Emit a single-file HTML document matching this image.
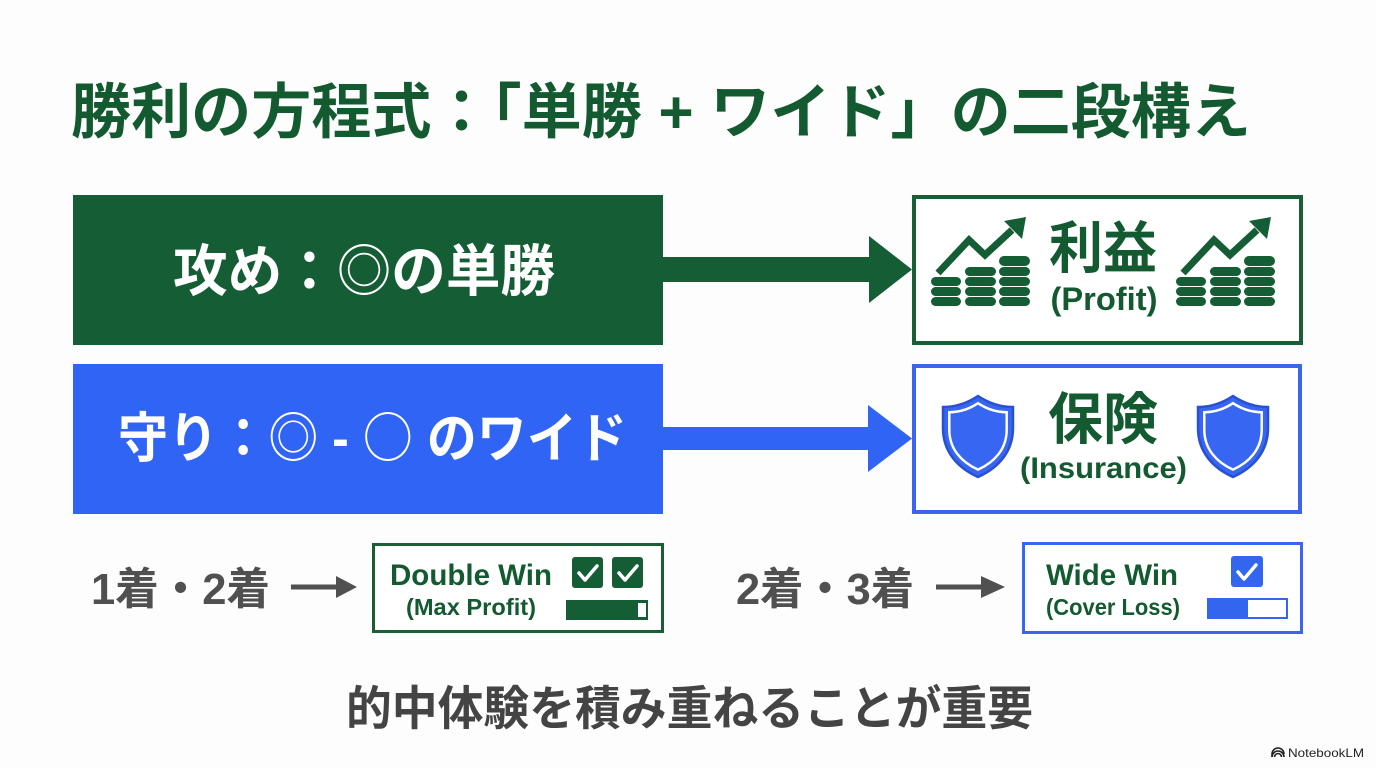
<!DOCTYPE html>
<html lang="ja">
<head>
<meta charset="utf-8">
<style>
  html, body { margin:0; padding:0; background:#fdfdfd; }
  body { width:1376px; height:768px; overflow:hidden; }
  svg { display:block; }
  text { font-family: "Liberation Sans", "Noto Sans CJK JP", sans-serif; font-weight:700; }
  .thin { font-family: "Noto Sans CJK JP", sans-serif; font-weight:400; }
  .logo { font-family: "Liberation Sans", sans-serif; font-weight:400; }
</style>
</head>
<body>
<svg width="1376" height="768" viewBox="0 0 1376 768" xmlns="http://www.w3.org/2000/svg">
  <rect width="1376" height="768" fill="#fdfdfd"/>

  <!-- Title -->
  <text x="71" y="133" font-size="60" fill="#135a30" textLength="1180" lengthAdjust="spacingAndGlyphs">勝利の方程式：「単勝 + ワイド」の二段構え</text>

  <!-- Green attack box -->
  <rect x="73" y="195" width="590" height="150" fill="#155d34"/>
  <text x="173" y="291" font-size="56" fill="#ffffff" textLength="382" lengthAdjust="spacingAndGlyphs">攻め：<tspan class="thin">◎</tspan>の単勝</text>

  <!-- Green arrow -->
  <polygon points="663,257 869,257 869,236 912,269.5 869,303 869,282 663,282" fill="#155d34"/>

  <!-- Green outline box -->
  <rect x="914" y="197" width="387" height="146" fill="#ffffff" stroke="#1a5e36" stroke-width="4"/>
  <text x="1103" y="268" font-size="56" fill="#135a30" text-anchor="middle" textLength="108" lengthAdjust="spacingAndGlyphs">利益</text>
  <text x="1104" y="310" font-size="32" fill="#135a30" text-anchor="middle" textLength="107" lengthAdjust="spacingAndGlyphs">(Profit)</text>

  <!-- Coin icon -->
  <g id="coins" fill="#155d34">
    <polyline points="938,273 969,240 985,255 1012,230" fill="none" stroke="#155d34" stroke-width="7" stroke-linejoin="miter"/>
    <polygon points="1026,217 1022,239 1004,221"/>
    <!-- stack 1 -->
    <rect x="931" y="297" width="30" height="9" rx="4.5"/>
    <rect x="931" y="287" width="30" height="9" rx="4.5"/>
    <rect x="931" y="277" width="30" height="9" rx="4.5"/>
    <!-- stack 2 -->
    <rect x="965" y="297" width="31" height="9" rx="4.5"/>
    <rect x="965" y="287" width="31" height="9" rx="4.5"/>
    <rect x="965" y="277" width="31" height="9" rx="4.5"/>
    <rect x="965" y="267" width="31" height="9" rx="4.5"/>
    <!-- stack 3 -->
    <rect x="999" y="297" width="31" height="9" rx="4.5"/>
    <rect x="999" y="287" width="31" height="9" rx="4.5"/>
    <rect x="999" y="277" width="31" height="9" rx="4.5"/>
    <rect x="999" y="267" width="31" height="9" rx="4.5"/>
    <rect x="999" y="256" width="31" height="10" rx="5"/>
  </g>
  <use href="#coins" transform="translate(245,0)"/>

  <!-- Blue defense box -->
  <rect x="73" y="364" width="590" height="150" fill="#3064f5"/>
  <text x="118" y="457" font-size="54" fill="#ffffff" textLength="509" lengthAdjust="spacingAndGlyphs">守り：<tspan class="thin">◎</tspan> - <tspan class="thin">○</tspan> のワイド</text>

  <!-- Blue arrow -->
  <polygon points="663,427 868,427 868,405 912,438.5 868,472 868,450 663,450" fill="#3064f5"/>

  <!-- Blue outline box -->
  <rect x="914" y="366" width="386" height="146" fill="#ffffff" stroke="#3a66ee" stroke-width="4"/>
  <text x="1103" y="439" font-size="56" fill="#135a30" text-anchor="middle" textLength="110" lengthAdjust="spacingAndGlyphs">保険</text>
  <text x="1103.5" y="478" font-size="30" fill="#135a30" text-anchor="middle" textLength="167" lengthAdjust="spacingAndGlyphs">(Insurance)</text>

  <!-- Shields -->
  <g id="shield">
    <path d="M978,396 C990,404 1001,407 1013,407 L1013,428 C1013,452 998,468 978,477 C958,468 943,452 943,428 L943,407 C955,407 966,404 978,396 Z" fill="#3666f2" stroke="#2850d0" stroke-width="2.5"/>
    <path d="M978,396 C990,404 1001,407 1013,407 L1013,428 C1013,452 998,468 978,477 C958,468 943,452 943,428 L943,407 C955,407 966,404 978,396 Z" fill="none" stroke="#ffffff" stroke-width="3" transform="translate(978,436) scale(0.82) translate(-978,-436)"/>
  </g>
  <use href="#shield" transform="translate(255,0)"/>

  <!-- Bottom left row -->
  <text x="91" y="604" font-size="44" fill="#505050" textLength="179" lengthAdjust="spacingAndGlyphs">1着・2着</text>
  <line x1="291" y1="587" x2="340" y2="587" stroke="#505050" stroke-width="5"/>
  <polygon points="336,576 357,587 336,598" fill="#505050"/>

  <rect x="373.5" y="544.5" width="289" height="87" fill="#ffffff" stroke="#1a5e36" stroke-width="3"/>
  <text x="390" y="585" font-size="30" fill="#135a30" textLength="162" lengthAdjust="spacingAndGlyphs">Double Win</text>
  <text x="406" y="615" font-size="23" fill="#135a30" textLength="130" lengthAdjust="spacingAndGlyphs">(Max Profit)</text>
  <rect x="572" y="557" width="31" height="31" rx="3" fill="#155d34"/>
  <polyline points="579,573 585,580 597,566" fill="none" stroke="#ffffff" stroke-width="3.5" stroke-linecap="round" stroke-linejoin="round"/>
  <rect x="612" y="557" width="31" height="31" rx="3" fill="#155d34"/>
  <polyline points="619,573 625,580 637,566" fill="none" stroke="#ffffff" stroke-width="3.5" stroke-linecap="round" stroke-linejoin="round"/>
  <rect x="566" y="600" width="82" height="20" fill="#155d34"/>
  <rect x="638" y="603" width="8" height="14" fill="#ffffff"/>

  <!-- Bottom right row -->
  <text x="736" y="604" font-size="44" fill="#505050" textLength="178" lengthAdjust="spacingAndGlyphs">2着・3着</text>
  <line x1="936" y1="587" x2="985" y2="587" stroke="#505050" stroke-width="5"/>
  <polygon points="981,576 1005,587 981,598" fill="#505050"/>

  <rect x="1023.5" y="543.5" width="278" height="89" fill="#ffffff" stroke="#3a66ee" stroke-width="3"/>
  <text x="1046" y="585" font-size="30" fill="#135a30" textLength="132" lengthAdjust="spacingAndGlyphs">Wide Win</text>
  <text x="1046" y="615" font-size="23" fill="#135a30" textLength="134" lengthAdjust="spacingAndGlyphs">(Cover Loss)</text>
  <rect x="1231" y="556" width="32" height="31" rx="3" fill="#3366ee"/>
  <polyline points="1238,572 1244,579 1256,565" fill="none" stroke="#ffffff" stroke-width="3.5" stroke-linecap="round" stroke-linejoin="round"/>
  <rect x="1208" y="599" width="79" height="19" fill="#ffffff" stroke="#3366ee" stroke-width="2"/>
  <rect x="1207" y="598" width="41" height="21" fill="#3366ee"/>

  <!-- Bottom message -->
  <text x="346" y="725" font-size="47" fill="#444444" textLength="687" lengthAdjust="spacingAndGlyphs">的中体験を積み重ねることが重要</text>

  <!-- NotebookLM logo -->
  <g fill="none" stroke="#222" stroke-width="1.6">
    <path d="M1272,757 A6,6 0 0 1 1284,757"/>
    <path d="M1274.5,757 A3.5,3.5 0 0 1 1281.5,757"/>
    <path d="M1272,757 L1272,754 A6,6 0 0 1 1284,754"/>
  </g>
  <text class="logo" x="1288" y="757" font-size="12" fill="#222" textLength="76" lengthAdjust="spacingAndGlyphs">NotebookLM</text>
</svg>
</body>
</html>
